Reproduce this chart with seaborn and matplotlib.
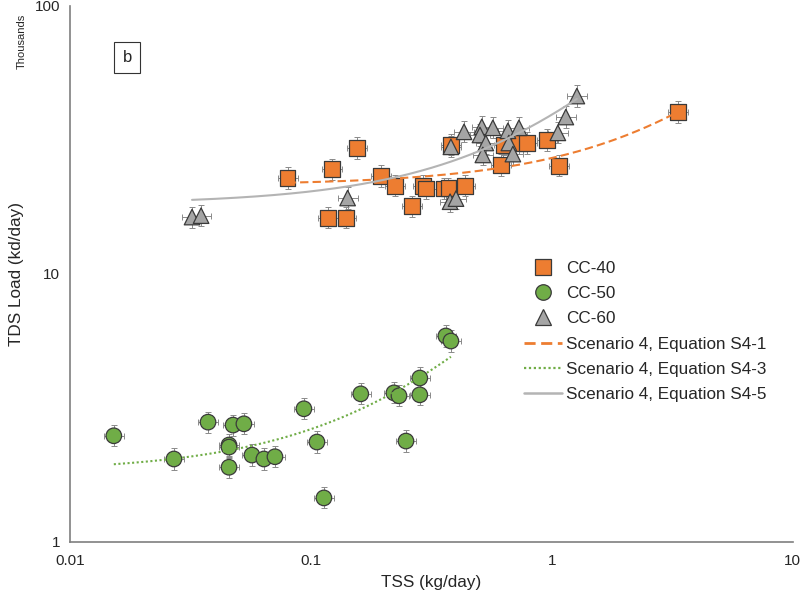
import numpy as np
import pandas as pd
import matplotlib
matplotlib.use("Agg")
import matplotlib.pyplot as plt
import seaborn as sns
from matplotlib.ticker import FixedLocator, FixedFormatter, NullLocator

# ---------------- data (TSS kg/day, TDS load in thousands) ----------------
cc40_tss = [0.080, 0.122, 0.155, 0.118, 0.140, 0.195, 0.223, 0.292, 0.300, 0.263,
            0.355, 0.372, 0.436, 0.381, 0.614, 0.632, 0.730, 0.788, 0.954, 1.069, 3.33]
cc40_tds = [22.8, 24.6, 29.5, 16.2, 16.2, 23.2, 21.3, 21.3, 20.8, 17.9,
            20.8, 20.9, 21.3, 30.3, 25.5, 30.3, 30.8, 30.8, 31.6, 25.3, 40.2]

cc50_tss = [0.0152, 0.0270, 0.0374, 0.0475, 0.0527, 0.0457, 0.0457, 0.0457, 0.0569, 0.0638,
            0.0709, 0.0935, 0.1059, 0.1132, 0.161, 0.221, 0.232, 0.283, 0.283, 0.248,
            0.363, 0.381]
cc50_tds = [2.49, 2.04, 2.80, 2.73, 2.76, 2.30, 2.26, 1.90, 2.11, 2.04,
            2.08, 3.14, 2.36, 1.46, 3.57, 3.60, 3.51, 4.09, 3.54, 2.38,
            5.87, 5.62]

cc60_tss = [0.0321, 0.0350, 0.142, 0.378, 0.400, 0.381, 0.432, 0.512, 0.503, 0.569,
            0.532, 0.517, 0.657, 0.730, 0.663, 0.689, 1.059, 1.143, 1.270]
cc60_tds = [16.3, 16.5, 19.2, 18.6, 19.1, 29.8, 33.9, 35.4, 33.0, 35.1,
            30.8, 27.8, 34.2, 35.1, 30.8, 28.0, 33.6, 38.5, 46.1]

series_names = ["CC-40", "CC-50", "CC-60"]

# trend equations (linear: y = a + b*x), valid over x range
eq_names = ["Scenario 4, Equation S4-1", "Scenario 4, Equation S4-3", "Scenario 4, Equation S4-5"]
eq_a = [21.45, 1.827, 18.22]
eq_b = [5.63, 8.09, 21.08]
eq_xmin = [0.080, 0.0152, 0.0321]
eq_xmax = [3.33, 0.381, 1.270]

x_ticks = [0.01, 0.1, 1, 10]
x_ticklabels = ["0.01", "0.1", "1", "10"]
y_ticks = [1, 10, 100]
y_ticklabels = ["1", "10", "100"]

# ---------------- build tables ----------------
pts = pd.concat([
    pd.DataFrame({"TSS": cc40_tss, "TDS": cc40_tds, "series": "CC-40"}),
    pd.DataFrame({"TSS": cc50_tss, "TDS": cc50_tds, "series": "CC-50"}),
    pd.DataFrame({"TSS": cc60_tss, "TDS": cc60_tds, "series": "CC-60"}),
], ignore_index=True)

line_frames = []
for name, a, b, x0, x1 in zip(eq_names, eq_a, eq_b, eq_xmin, eq_xmax):
    xs = np.logspace(np.log10(x0), np.log10(x1), 200)
    line_frames.append(pd.DataFrame({"TSS": xs, "TDS": a + b * xs, "eq": name}))
lines = pd.concat(line_frames, ignore_index=True)

# ---------------- styling ----------------
sns.set_theme(style="white")
plt.rcParams["font.family"] = ["Liberation Sans", "DejaVu Sans"]

c_orange = "#ED7D31"
c_green = "#70AD47"
c_gray = "#A5A5A5"
edge = "#3a3a3a"
axis_col = "#7f7f7f"
txt_col = "#262626"

fig = plt.figure(figsize=(8.0, 5.92), dpi=100)
ax = fig.add_axes([0.0875, 0.0845, 0.9035, 0.9055])
ax.set_xscale("log")
ax.set_yscale("log")

# error bars (small, behind markers)
err_x = 0.10
err_y = 0.095
ax.errorbar(pts["TSS"], pts["TDS"],
            xerr=[pts["TSS"] * err_x / (1 + err_x), pts["TSS"] * err_x],
            yerr=[pts["TDS"] * err_y / (1 + err_y), pts["TDS"] * err_y],
            fmt="none", ecolor="#8a8a8a", elinewidth=0.7, capsize=2, capthick=0.7, zorder=2)

sns.scatterplot(data=pts, x="TSS", y="TDS", hue="series", style="series",
                hue_order=series_names, style_order=series_names,
                palette={"CC-40": c_orange, "CC-50": c_green, "CC-60": c_gray},
                markers={"CC-40": "s", "CC-50": "o", "CC-60": "^"},
                s=125, edgecolor=edge, linewidth=0.9, ax=ax, zorder=3)

sns.lineplot(data=lines, x="TSS", y="TDS", hue="eq", style="eq",
             hue_order=eq_names, style_order=eq_names,
             palette={eq_names[0]: c_orange, eq_names[1]: c_green, eq_names[2]: "#b4b4b4"},
             dashes={eq_names[0]: (4, 2), eq_names[1]: (1, 1.2), eq_names[2]: ""},
             ax=ax, zorder=4, sort=False, estimator=None)
for ln, lw in zip(ax.get_lines()[-3:], [2.0, 1.6, 1.8]):
    ln.set_linewidth(lw)

ax.set_xlim(0.01, 10)
ax.set_ylim(1, 100)
ax.xaxis.set_major_locator(FixedLocator(x_ticks))
ax.xaxis.set_major_formatter(FixedFormatter(x_ticklabels))
ax.yaxis.set_major_locator(FixedLocator(y_ticks))
ax.yaxis.set_major_formatter(FixedFormatter(y_ticklabels))
ax.xaxis.set_minor_locator(NullLocator())
ax.yaxis.set_minor_locator(NullLocator())

for side in ["top", "right"]:
    ax.spines[side].set_visible(False)
for side in ["left", "bottom"]:
    ax.spines[side].set_color(axis_col)
    ax.spines[side].set_linewidth(1.2)
ax.tick_params(axis="both", which="major", direction="inout", length=8, width=1.0,
               color=axis_col, labelsize=11, labelcolor=txt_col, pad=3)
ax.tick_params(axis="x", pad=5)

ax.set_xlabel("TSS (kg/day)", fontsize=12.3, color=txt_col, labelpad=5)
ax.set_ylabel("TDS Load (kd/day)", fontsize=12.3, color=txt_col, labelpad=8)

fig.text(0.027, 0.93, "Thousands", rotation=90, fontsize=8, ha="center", va="center",
         color=txt_col)
fig.text(0.159, 0.903, "b", fontsize=12, ha="center", va="center", color=txt_col,
         bbox=dict(boxstyle="square,pad=0.5", facecolor="white", edgecolor="#333333",
                   linewidth=0.8))

handles, labels = ax.get_legend_handles_labels()
leg = ax.legend(handles, labels, loc="upper left", bbox_to_anchor=(0.647, 0.571),
                bbox_transform=fig.transFigure, frameon=False, fontsize=12.3,
                handlelength=2.2, handletextpad=0.25, labelspacing=0.6, borderaxespad=0)
for t in leg.get_texts():
    t.set_color(txt_col)

fig.savefig("out.png", dpi=100)
